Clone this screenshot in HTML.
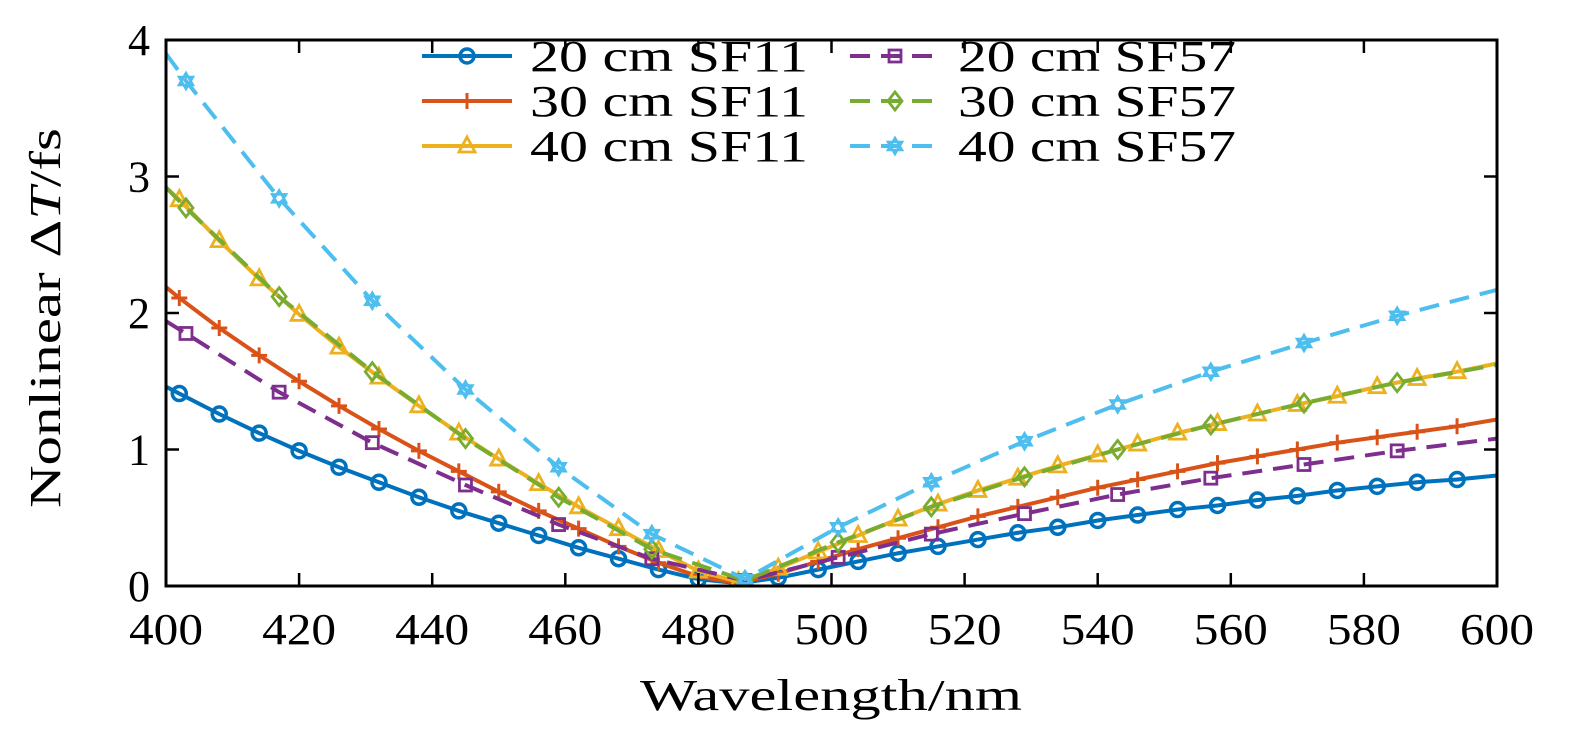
<!DOCTYPE html>
<html><head><meta charset="utf-8"><style>
html,body{margin:0;padding:0;background:#fff;}
svg{display:block;font-family:"Liberation Serif",serif;}
</style></head><body>
<svg id="chart" width="1575" height="738" xmlns="http://www.w3.org/2000/svg"></svg>
<script>
const xTicks=[400,420,440,460,480,500,520,540,560,580,600];
const yTicks=[0,1,2,3,4];
const wlA=[400,402,408,414,420,426,432,438,444,450,456,462,468,474,480,486,492,498,504,510,516,522,528,534,540,546,552,558,564,570,576,582,588,594,600];
const sf11_20=[1.46,1.41,1.26,1.12,0.99,0.87,0.76,0.65,0.55,0.46,0.37,0.28,0.20,0.12,0.05,0.02,0.06,0.12,0.18,0.24,0.29,0.34,0.39,0.43,0.48,0.52,0.56,0.59,0.63,0.66,0.70,0.73,0.76,0.78,0.81];
const sf11_30=[2.19,2.11,1.89,1.69,1.50,1.32,1.15,0.99,0.84,0.69,0.55,0.42,0.29,0.17,0.07,0.02,0.09,0.18,0.27,0.35,0.43,0.51,0.58,0.65,0.72,0.78,0.84,0.90,0.95,1.00,1.05,1.09,1.13,1.17,1.22];
const sf11_40=[2.92,2.83,2.53,2.25,1.99,1.75,1.53,1.32,1.12,0.93,0.75,0.58,0.42,0.26,0.11,0.03,0.13,0.25,0.37,0.49,0.60,0.70,0.79,0.88,0.96,1.04,1.12,1.19,1.26,1.33,1.39,1.46,1.52,1.57,1.63];
const wlB=[400,403,417,431,445,459,473,487,501,515,529,543,557,571,585,600];
const sf57_20=[1.94,1.85,1.42,1.05,0.74,0.45,0.20,0.04,0.21,0.38,0.53,0.67,0.79,0.89,0.99,1.08];
const sf57_30=[2.92,2.77,2.12,1.57,1.08,0.65,0.27,0.04,0.32,0.58,0.80,1.00,1.18,1.34,1.49,1.62];
const sf57_40=[3.90,3.70,2.84,2.09,1.44,0.87,0.38,0.05,0.43,0.76,1.06,1.33,1.57,1.78,1.98,2.17];

const NS="http://www.w3.org/2000/svg";
const svg=document.getElementById('chart');
const L=166,R=1497,T=40,B=586;
const xs=v=>L+(v-400)/200*(R-L);
const ys=v=>B-v/4*(B-T);
function mk(tag,attrs,parent){const e=document.createElementNS(NS,tag);for(const k in attrs)e.setAttribute(k,attrs[k]);(parent||svg).appendChild(e);return e;}

function marker(type,x,y,color,g){
  let e;
  if(type==='circle'){e=mk('circle',{cx:x,cy:y,r:7,fill:'none',stroke:color,'stroke-width':3.5},g);}
  else if(type==='plus'){e=mk('path',{d:`M${x-8},${y}H${x+8}M${x},${y-8}V${y+8}`,stroke:color,'stroke-width':3,fill:'none'},g);}
  else if(type==='tri'){e=mk('path',{d:`M${x},${y-9}L${x+8},${y+6}L${x-8},${y+6}Z`,stroke:color,'stroke-width':2.8,fill:'none'},g);}
  else if(type==='square'){e=mk('rect',{x:x-6,y:y-6,width:12,height:12,stroke:color,'stroke-width':2.8,fill:'none'},g);}
  else if(type==='diamond'){e=mk('path',{d:`M${x},${y-9}L${x+7},${y}L${x},${y+9}L${x-7},${y}Z`,stroke:color,'stroke-width':2.8,fill:'none'},g);}
  else {e=mk('path',{d:`M${x},${y-8}L${x+7},${y+4}L${x-7},${y+4}ZM${x},${y+8}L${x+7},${y-4}L${x-7},${y-4}Z`,stroke:color,'stroke-width':2.5,fill:'none'},g);}
  
  
}

const series=[
 {name:'20 cm SF11',wl:wlA,v:sf11_20,c:'#0072BD',m:'circle',dash:null,col:0,row:0},
 {name:'30 cm SF11',wl:wlA,v:sf11_30,c:'#D95319',m:'plus',dash:null,col:0,row:1},
 {name:'40 cm SF11',wl:wlA,v:sf11_40,c:'#EDB120',m:'tri',dash:null,col:0,row:2},
 {name:'20 cm SF57',wl:wlB,v:sf57_20,c:'#7E2F8E',m:'square',dash:'20,11',col:1,row:0},
 {name:'30 cm SF57',wl:wlB,v:sf57_30,c:'#77AC30',m:'diamond',dash:'20,11',col:1,row:1},
 {name:'40 cm SF57',wl:wlB,v:sf57_40,c:'#4DBEEE',m:'star',dash:'20,11',col:1,row:2},
];

const clip=mk('clipPath',{id:'pa'});mk('rect',{x:L,y:T,width:R-L,height:B-T},clip);

series.forEach(s=>{
  const g=mk('g',{'clip-path':'url(#pa)'});
  
  
  const pts=s.wl.map((w,i)=>xs(w)+','+ys(s.v[i])).join(' ');
  const pl=mk('polyline',{points:pts,fill:'none',stroke:s.c,'stroke-width':4},g);
  if(s.dash)pl.setAttribute('stroke-dasharray',s.dash);
  
  
  s.wl.forEach((w,i)=>{if(w!==400&&w!==600)marker(s.m,xs(w),ys(s.v[i]),s.c,g);});
});

const box=mk('rect',{x:L,y:T,width:R-L,height:B-T,fill:'none',stroke:'#000','stroke-width':3});

xTicks.forEach(t=>{
  const x=xs(t);
  mk('line',{x1:x,y1:B,x2:x,y2:B-13,stroke:'#000','stroke-width':2.5});
  mk('line',{x1:x,y1:T,x2:x,y2:T+13,stroke:'#000','stroke-width':2.5});
  const tx=mk('text',{x:x-37,y:B+58,'font-size':44,textLength:74,lengthAdjust:'spacingAndGlyphs'});
  tx.textContent=t;
  
});
yTicks.forEach(t=>{
  const y=ys(t);
  mk('line',{x1:L,y1:y,x2:L+13,y2:y,stroke:'#000','stroke-width':2.5});
  mk('line',{x1:R,y1:y,x2:R-13,y2:y,stroke:'#000','stroke-width':2.5});
  const tx=mk('text',{x:L-16,y:y+15,'text-anchor':'end','font-size':44});
  tx.textContent=t;
  
});
const xt=mk('text',{x:640,y:710,'font-size':44,textLength:382,lengthAdjust:'spacingAndGlyphs'});
xt.textContent='Wavelength/nm';

const yt=mk('text',{x:0,y:0,'font-size':44,textLength:380,lengthAdjust:'spacingAndGlyphs',transform:`translate(60,508) rotate(-90)`});
yt.innerHTML='Nonlinear Δ<tspan font-style="italic">T</tspan>/fs';


const lg=mk('g',{});

series.forEach(s=>{
  const x0=s.col?850:422, y=56+s.row*45;
  const e=mk('g',{},lg);
  
  const ln=mk('line',{x1:x0,y1:y,x2:x0+90,y2:y,stroke:s.c,'stroke-width':4},e);
  if(s.dash)ln.setAttribute('stroke-dasharray','20,11');
  marker(s.m,x0+45,y,s.c,e);
  const tx=mk('text',{x:x0+108,y:y+15,'font-size':44,textLength:278,lengthAdjust:'spacingAndGlyphs'},e);
  tx.textContent=s.name.replace(' cm ','\u00a0cm\u00a0');
});
</script>
</body></html>
